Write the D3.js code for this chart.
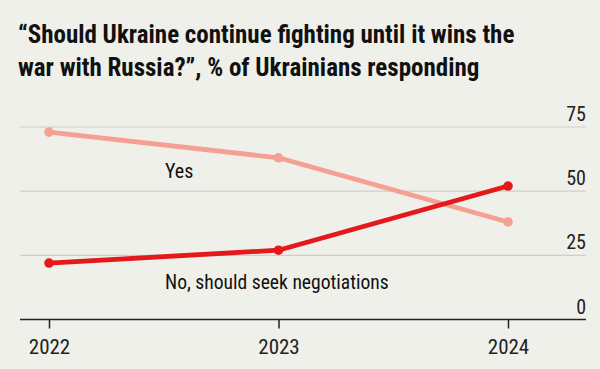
<!DOCTYPE html>
<html><head><meta charset="utf-8">
<script src="https://cdn.jsdelivr.net/npm/d3@7"></script>
<style>
html,body{margin:0;padding:0;background:#f0f0eb;}
svg{display:block;}
</style></head><body>
<svg id="c" width="600" height="369"></svg>
<script>
const years = [2022, 2023, 2024];
const yesValues = [73, 63, 38];
const noValues = [22, 27, 52];
const yTicks = [0, 25, 50, 75];
const titleLines = ["\u201cShould Ukraine continue fighting until it wins the", "war with Russia?\u201d, % of Ukrainians responding"];
const seriesLabels = ["Yes", "No, should seek negotiations"];

const svg = d3.select("#c");
const W = 600, H = 369;
svg.append("rect").attr("width", W).attr("height", H).attr("fill", "#f0f0eb");
const font = "'Liberation Sans Narrow', 'Roboto Condensed', 'Liberation Sans', sans-serif";

const x = d3.scalePoint().domain(years).range([49, 508]);
const y = d3.scaleLinear().domain([0, 75]).range([319.5, 127]);
const left = 20, right = 586;

// title
svg.selectAll("text.title").data(titleLines).enter().append("text")
  .attr("class", "title")
  .attr("x", 18).attr("y", (d, i) => 43 + i * 33)
  .attr("font-family", font).attr("font-weight", "bold").attr("font-size", 25)
  .attr("fill", "#111").text(d => d);

// gridlines
svg.selectAll("line.grid").data(yTicks.filter(d => d > 0)).enter().append("line")
  .attr("x1", left).attr("x2", right)
  .attr("y1", d => y(d)).attr("y2", d => y(d))
  .attr("stroke", "#cfcfca").attr("stroke-width", 1.2);

// y tick labels
svg.selectAll("text.ytick").data(yTicks).enter().append("text")
  .attr("x", right).attr("y", d => y(d) - 6)
  .attr("text-anchor", "end")
  .attr("font-family", font).attr("font-size", 20).attr("fill", "#222")
  .text(d => d);

// x axis
const xAxis = d3.axisBottom(x).tickSize(9).tickSizeOuter(0).tickFormat(d3.format("d"));
const gx = svg.append("g").attr("transform", `translate(0,${y(0)})`).call(xAxis);
gx.select(".domain").remove();
gx.selectAll(".tick line").attr("stroke", "#222").attr("stroke-width", 1.5);
gx.selectAll(".tick text").attr("font-family", font).attr("font-size", 21).attr("fill", "#222").attr("dy", "1.05em");
svg.append("line").attr("x1", left).attr("x2", right).attr("y1", y(0)).attr("y2", y(0))
  .attr("stroke", "#222").attr("stroke-width", 1.5);

const line = d3.line().x((d, i) => x(years[i])).y(d => y(d));
const series = [
  {vals: yesValues, color: "#f4a093"},
  {vals: noValues, color: "#e3191c"}
];
series.forEach(s => {
  svg.append("path").datum(s.vals).attr("d", line)
    .attr("fill", "none").attr("stroke", s.color).attr("stroke-width", 4.8)
    .attr("stroke-linejoin", "round");
  svg.selectAll(null).data(s.vals).enter().append("circle")
    .attr("cx", (d, i) => x(years[i])).attr("cy", d => y(d)).attr("r", 4.8)
    .attr("fill", s.color);
});

// series labels
svg.append("text").attr("x", 165).attr("y", 178)
  .attr("font-family", font).attr("font-size", 20).attr("fill", "#111").text(seriesLabels[0]);
svg.append("text").attr("x", 165).attr("y", 289)
  .attr("font-family", font).attr("font-size", 19.6).attr("fill", "#111").text(seriesLabels[1]);
</script>
</body></html>
